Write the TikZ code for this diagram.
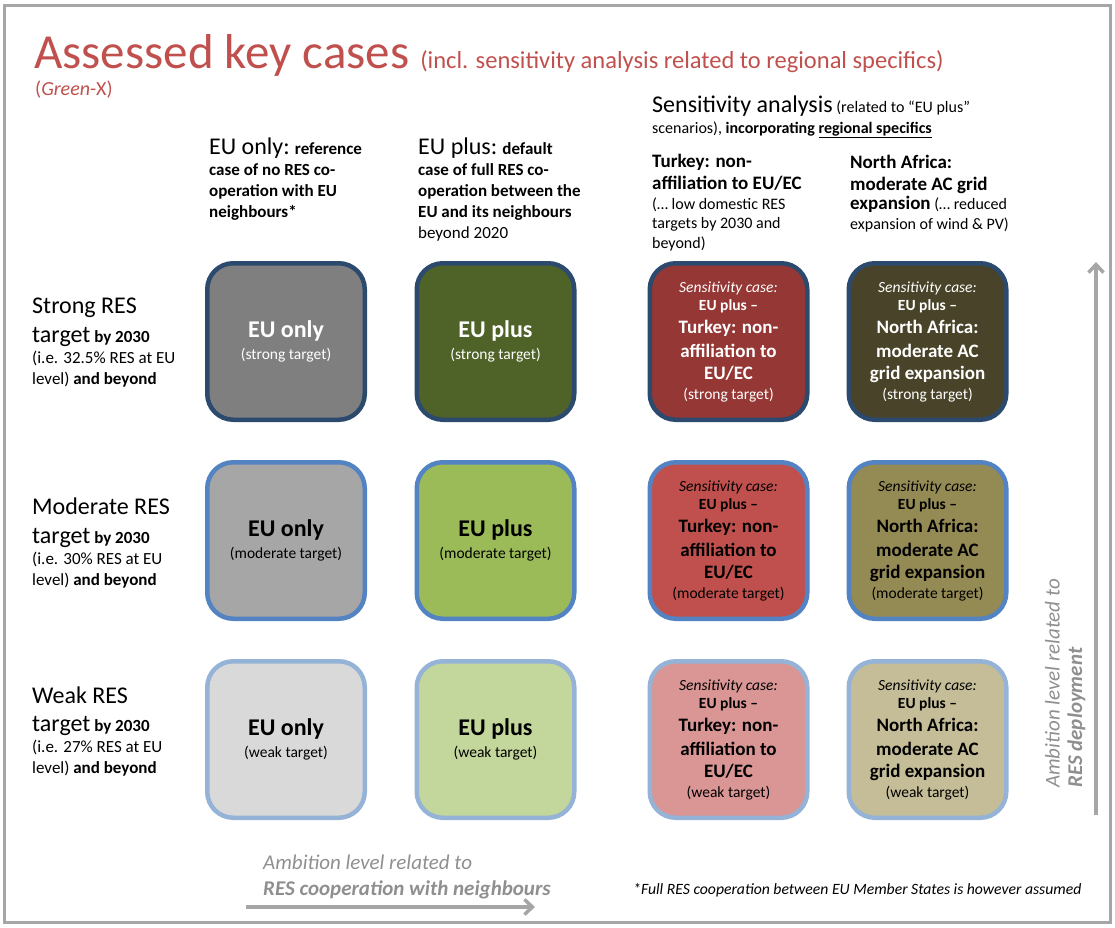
\documentclass[tikz,border=0pt]{standalone}
\usepackage{fontspec}
\setmainfont{Carlito}
\usepackage{xcolor}
\usepackage{tikz}
\usetikzlibrary{arrows.meta,calc}

\definecolor{titlered}{HTML}{C0504D}
\definecolor{framegray}{HTML}{A6A6A6}
\definecolor{notegray}{HTML}{8F8F8F}
\definecolor{edgeS}{HTML}{2C4A6E}
\definecolor{edgeM}{HTML}{5383C2}
\definecolor{edgeW}{HTML}{95B3D7}
\definecolor{onlyS}{HTML}{7F7F7F}
\definecolor{onlyM}{HTML}{A6A6A6}
\definecolor{onlyW}{HTML}{D9D9D9}
\definecolor{plusS}{HTML}{4F6228}
\definecolor{plusM}{HTML}{9BBB59}
\definecolor{plusW}{HTML}{C3D69B}
\definecolor{trkS}{HTML}{953735}
\definecolor{trkM}{HTML}{C0504D}
\definecolor{trkW}{HTML}{D99694}
\definecolor{nafS}{HTML}{494429}
\definecolor{nafM}{HTML}{948A54}
\definecolor{nafW}{HTML}{C4BD97}

\newcommand{\bigtxt}[1]{{\fontsize{24}{21}\selectfont #1}}
\newcommand{\hdtxt}[1]{{\fontsize{19}{19.5}\selectfont\bfseries #1}}
\newcommand{\casename}[1]{{\fontsize{24}{22}\selectfont\bfseries #1}}
\newcommand{\senscase}[4]{{\itshape Sensitivity case:}\\[-4pt]{\bfseries EU plus –}\\[1pt]%
  {\fontsize{19}{22}\selectfont\bfseries #1}\\[2pt]{\fontsize{19}{22}\selectfont\bfseries #2}\\%
  {\fontsize{19}{22}\selectfont\bfseries #3}\\[-2pt](#4 target)}

\begin{document}
\begin{tikzpicture}[
    x=1pt, y=-1pt,
    box/.style={draw, line width=4.5pt, rounded corners=26pt, minimum width=157.5pt,
      minimum height=156.5pt, align=center, inner sep=0pt, font=\fontsize{15.5}{22}\selectfont},
    boxS/.style={box, draw=edgeS, text=white},
    boxM/.style={box, draw=edgeM},
    boxW/.style={box, draw=edgeW},
    txt/.style={anchor=base west, align=left, inner sep=0pt},
    rowhead/.style={txt, font=\fontsize{17}{21}\selectfont},
    colhead/.style={txt, font=\fontsize{17}{21}\selectfont\bfseries},
    axis/.style={-{Straight Barb[length=8pt,width=15pt]}, line width=3.5pt, framegray},
    axisnote/.style={txt, text=notegray, font=\fontsize{21}{26}\selectfont\itshape}
]

% page and frame
\useasboundingbox (0,0) rectangle (1115,927);
\draw[framegray, line width=3pt] (4.5,5.5) rectangle (1110.5,922.5);

% title (base anchors sit on the last line)
\node[txt, text=titlered] (title) at (34,68)
  {{\fontsize{49}{49}\selectfont Assessed key cases}\hspace{11pt}{\fontsize{24.5}{24}\selectfont(incl. sensitivity analysis related to regional specifics)}};
\node[txt, text=titlered, font=\fontsize{20}{20}\selectfont] (source) at (35,95) {(\textit{Green}-X)};

% column heads
\node[colhead] (onlyhead) at (209,217)
  {\bigtxt{\mdseries EU only:} reference\\case of no RES co-\\operation with EU\\neighbours*};
\node[colhead] (plushead) at (418,238)
  {\bigtxt{\mdseries EU plus:} default\\case of full RES co-\\operation between the\\EU and its neighbours\\{\mdseries beyond 2020}};
\node[txt, font=\fontsize{16}{21}\selectfont] (senshead) at (652,133)
  {\bigtxt{Sensitivity analysis} (related to “EU plus”\\scenarios), \textbf{incorporating \underline{regional specifics}}};
\node[txt, font=\fontsize{16}{19.5}\selectfont] (trkhead) at (652,248)
  {\hdtxt{Turkey: non-}\\[2.5pt]\hdtxt{affiliation to EU/EC}\\(… low domestic RES\\targets by 2030 and\\beyond)};
\node[txt, font=\fontsize{16}{19.5}\selectfont] (nafhead) at (850,229)
  {\hdtxt{North Africa:}\\[2.5pt]\hdtxt{moderate AC grid}\\\hdtxt{expansion} (… reduced\\expansion of wind \& PV)};

% row heads
\node[rowhead] (strong) at (32,384)
  {\bigtxt{Strong RES}\\[8pt]\bigtxt{target} \textbf{by 2030}\\(i.e. 32.5\% RES at EU\\level) \textbf{and beyond}};
\node[rowhead] (moderate) at (32,585)
  {\bigtxt{Moderate RES}\\[8pt]\bigtxt{target} \textbf{by 2030}\\(i.e. 30\% RES at EU\\level) \textbf{and beyond}};
\node[rowhead] (weak) at (32,773)
  {\bigtxt{Weak RES}\\[7pt]\bigtxt{target} \textbf{by 2030}\\(i.e. 27\% RES at EU\\level) \textbf{and beyond}};

% strong row
\node[boxS, fill=onlyS] (onlyS) at (286,341.5) {\casename{EU only}\\(strong target)};
\node[boxS, fill=plusS] (plusS) at (495.5,341.5) {\casename{EU plus}\\(strong target)};
\node[boxS, fill=trkS] (trkS) at (728.5,341.5) {\senscase{Turkey: non-}{affiliation to}{EU/EC}{strong}};
\node[boxS, fill=nafS] (nafS) at (927.5,341.5) {\senscase{North Africa:}{moderate AC}{grid expansion}{strong}};

% moderate row
\node[boxM, fill=onlyM] (onlyM) at (286,540.5) {\casename{EU only}\\(moderate target)};
\node[boxM, fill=plusM] (plusM) at (495.5,540.5) {\casename{EU plus}\\(moderate target)};
\node[boxM, fill=trkM] (trkM) at (728.5,540.5) {\senscase{Turkey: non-}{affiliation to}{EU/EC}{moderate}};
\node[boxM, fill=nafM] (nafM) at (927.5,540.5) {\senscase{North Africa:}{moderate AC}{grid expansion}{moderate}};

% weak row
\node[boxW, fill=onlyW] (onlyW) at (286,739.5) {\casename{EU only}\\(weak target)};
\node[boxW, fill=plusW] (plusW) at (495.5,739.5) {\casename{EU plus}\\(weak target)};
\node[boxW, fill=trkW] (trkW) at (728.5,739.5) {\senscase{Turkey: non-}{affiliation to}{EU/EC}{weak}};
\node[boxW, fill=nafW] (nafW) at (927.5,739.5) {\senscase{North Africa:}{moderate AC}{grid expansion}{weak}};

% ambition axes
\coordinate (hfrom) at (246,907);
\coordinate (hto) at (535,907);
\draw[axis] (hfrom) -- (hto);
\node[axisnote] (hnote) at (263,895) {Ambition level related to\\\textbf{RES cooperation with neighbours}};

\coordinate (vfrom) at (1096,815);
\coordinate (vto) at (1096,262);
\draw[axis] (vfrom) -- (vto);
\node[axisnote, rotate=90, font=\fontsize{21}{22.5}\selectfont\itshape] (vnote) at (1082,788)
  {Ambition level related to\\\textbf{RES deployment}};

% footnote
\node[txt, font=\fontsize{15.7}{18}\selectfont\itshape] (foot) at (633,894)
  {*Full RES cooperation between EU Member States is however assumed};

\end{tikzpicture}
\end{document}
